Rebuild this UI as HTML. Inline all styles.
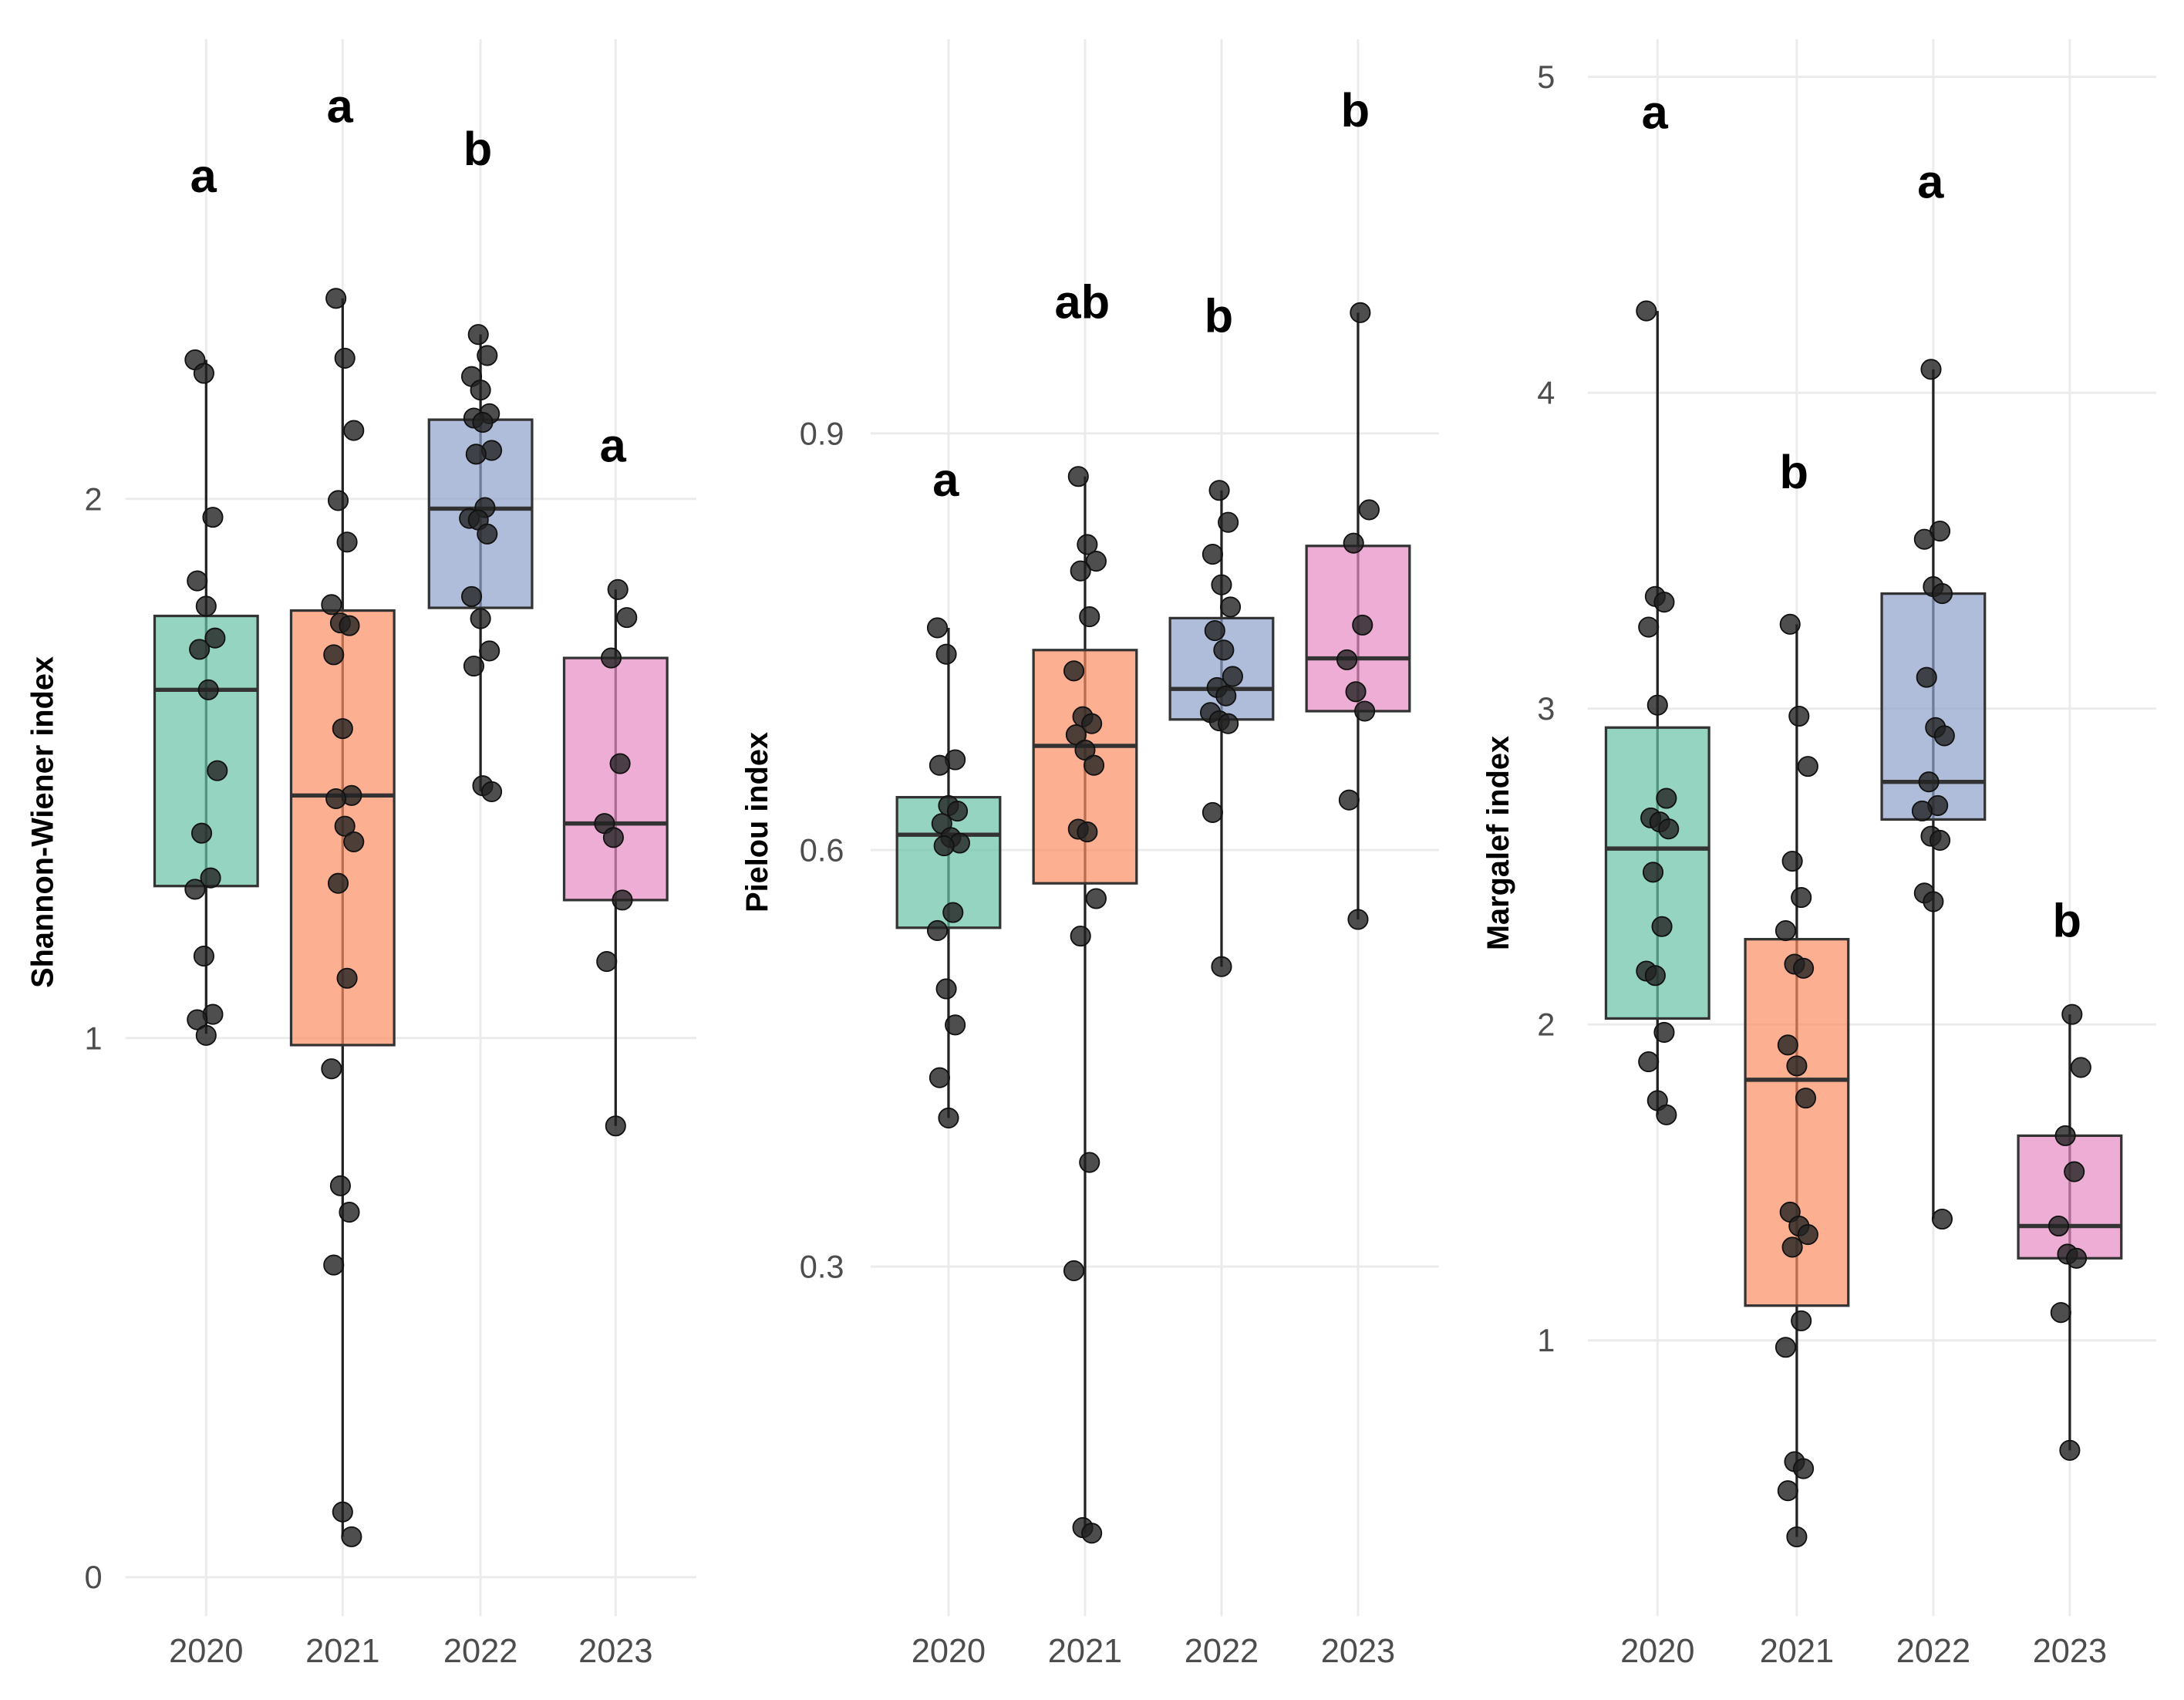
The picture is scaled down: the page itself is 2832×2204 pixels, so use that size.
<!DOCTYPE html>
<html><head><meta charset="utf-8"><style>
html,body{margin:0;padding:0;background:#fff;}
svg{display:block;font-family:"Liberation Sans",Arial,sans-serif;}
</style></head><body>
<svg id="chart" width="2832" height="2204" viewBox="0 0 1568 1220" xmlns="http://www.w3.org/2000/svg"></svg>
<script>
const years = ["2020","2021","2022","2023"];
const colors = ["#66c2a5","#fc8d62","#8da0cb","#e78ac3"];

// Panel 1: Shannon-Wiener
const shTicks = [0,1,2];
const shLetters = ["a","a","b","a"];
const shLetterVals = [2.60, 2.73, 2.65, 2.10];
const shQ1 = [1.282,0.987,1.798,1.256];
const shMed = [1.646,1.450,1.982,1.398];
const shQ3 = [1.783,1.793,2.147,1.705];
const shLo = [1.008,0.075,1.457,0.837];
const shHi = [2.258,2.372,2.305,1.832];
const shPts2020 = [2.258,2.233,1.966,1.848,1.801,1.742,1.721,1.646,1.496,1.380,1.297,1.276,1.152,1.044,1.034,1.005];
const shPts2021 = [2.372,2.261,2.127,1.997,1.920,1.804,1.770,1.765,1.711,1.574,1.450,1.444,1.393,1.364,1.287,1.111,0.943,0.726,0.677,0.579,0.121,0.075];
const shPts2022 = [2.305,2.266,2.227,2.202,2.158,2.150,2.142,2.090,2.083,1.984,1.964,1.961,1.935,1.819,1.778,1.718,1.690,1.468,1.457];
const shPts2023 = [1.832,1.780,1.705,1.509,1.398,1.372,1.256,1.142,0.837];

// Panel 2: Pielou
const piTicks = [0.3,0.6,0.9];
const piLetters = ["a","ab","b","b"];
const piLetterVals = [0.867,0.995,0.985,1.133];
const piQ1 = [0.544,0.576,0.694,0.700];
const piMed = [0.611,0.675,0.716,0.738];
const piQ3 = [0.638,0.744,0.767,0.819];
const piLo = [0.407,0.108,0.516,0.550];
const piHi = [0.760,0.869,0.859,0.987];
const piPts2020 = [0.760,0.741,0.665,0.661,0.632,0.628,0.619,0.609,0.605,0.603,0.555,0.542,0.500,0.474,0.436,0.407];
const piPts2021 = [0.869,0.820,0.808,0.801,0.768,0.729,0.696,0.691,0.683,0.672,0.661,0.615,0.613,0.565,0.538,0.375,0.297,0.112,0.108];
const piPts2022 = [0.859,0.836,0.813,0.791,0.775,0.758,0.744,0.725,0.717,0.711,0.699,0.693,0.691,0.627,0.516];
const piPts2023 = [0.987,0.845,0.821,0.762,0.737,0.714,0.700,0.636,0.550];

// Panel 3: Margalef
const maTicks = [1,2,3,4,5];
const maLetters = ["a","b","a","b"];
const maLetterVals = [4.89,3.75,4.67,2.33];
const maQ1 = [2.019,1.110,2.649,1.260];
const maMed = [2.557,1.825,2.768,1.362];
const maQ3 = [2.940,2.270,3.364,1.648];
const maLo = [1.714,0.378,1.384,0.652];
const maHi = [4.259,3.267,4.074,2.032];
const maPts2020 = [4.259,3.355,3.337,3.258,3.011,2.716,2.654,2.641,2.619,2.482,2.310,2.169,2.155,1.975,1.882,1.759,1.714];
const maPts2021 = [3.267,2.976,2.817,2.517,2.402,2.297,2.191,2.178,1.935,1.869,1.767,1.406,1.362,1.335,1.295,1.062,0.978,0.616,0.594,0.524,0.378];
const maPts2022 = [4.074,3.562,3.536,3.386,3.364,3.099,2.940,2.914,2.768,2.693,2.676,2.596,2.583,2.416,2.389,1.384];
const maPts2023 = [2.032,1.864,1.648,1.534,1.362,1.273,1.260,1.088,0.652];

const NS="http://www.w3.org/2000/svg";
const svg=document.getElementById('chart');
function mk(tag,attrs,parent){const e=document.createElementNS(NS,tag);for(const k in attrs)e.setAttribute(k,attrs[k]);(parent||svg).appendChild(e);return e;}

const panels=[
 {name:'shannon',title:'Shannon-Wiener index',x0:90,x1:500,xs:[148,246,345,442],y:v=>1132-387*v,ticks:shTicks,tickX:67,fmt:v=>String(v),titleX:38,titleY:590,
  q1:shQ1,med:shMed,q3:shQ3,lo:shLo,hi:shHi,pts:[shPts2020,shPts2021,shPts2022,shPts2023],letters:shLetters,lv:shLetterVals},
 {name:'pielou',title:'Pielou index',x0:625,x1:1033,xs:[681,779,877,975],y:v=>610-(v-0.6)*996.7,ticks:piTicks,tickX:590,fmt:v=>v.toFixed(1),titleX:551,titleY:590,
  q1:piQ1,med:piMed,q3:piQ3,lo:piLo,hi:piHi,pts:[piPts2020,piPts2021,piPts2022,piPts2023],letters:piLetters,lv:piLetterVals},
 {name:'margalef',title:'Margalef index',x0:1140,x1:1548,xs:[1190,1290,1388,1486],y:v=>962-(v-1)*226.75,ticks:maTicks,tickX:1110,fmt:v=>String(v),titleX:1083,titleY:605,
  q1:maQ1,med:maMed,q3:maQ3,lo:maLo,hi:maHi,pts:[maPts2020,maPts2021,maPts2022,maPts2023],letters:maLetters,lv:maLetterVals}
];

panels.forEach(p=>{
 const g=mk('g',{});
 
 
 p.ticks.forEach(t=>{
  const l=mk('line',{x1:p.x0,x2:p.x1,y1:p.y(t),y2:p.y(t),stroke:'#ebebeb','stroke-width':1.6},g);
  
  
  const tx=mk('text',{x:p.tickX,y:p.y(t)+8,'font-size':23,fill:'#4d4d4d','text-anchor':'middle'},g);
  tx.textContent=p.fmt(t);
  
  
 });
 p.xs.forEach((x,i)=>{
  const l=mk('line',{x1:x,x2:x,y1:28,y2:1160,stroke:'#ebebeb','stroke-width':1.6},g);
  
  
  const tx=mk('text',{x:x,y:1193,'font-size':24,fill:'#4d4d4d','text-anchor':'middle'},g);
  tx.textContent=years[i];
  
  
 });
 const tt=mk('text',{x:p.titleX,y:p.titleY,'font-size':22,'font-weight':'bold',fill:'#000','text-anchor':'middle',transform:`rotate(-90 ${p.titleX} ${p.titleY})`},g);
 tt.textContent=p.title;
 
 
 p.xs.forEach((x,i)=>{
  const hw=37;
  const w=mk('line',{x1:x,x2:x,y1:p.y(p.hi[i]),y2:p.y(p.lo[i]),stroke:'#222','stroke-width':1.8},g);
  
  
  const b=mk('rect',{x:x-hw,width:hw*2,y:p.y(p.q3[i]),height:p.y(p.q1[i])-p.y(p.q3[i]),fill:colors[i],'fill-opacity':0.7,stroke:'#333','stroke-width':1.8},g);
  
  
  const m=mk('line',{x1:x-hw,x2:x+hw,y1:p.y(p.med[i]),y2:p.y(p.med[i]),stroke:'#333','stroke-width':3},g);
  
  
  p.pts[i].forEach((v,j)=>{
   const jit=((j*37+i*13)%11-5)*1.6;
   const c=mk('circle',{cx:x+jit,cy:p.y(v),r:7,fill:'#222','fill-opacity':0.8,stroke:'#111','stroke-width':1},g);
   
   
  });
  const lt=mk('text',{x:x-2,y:p.y(p.lv[i])+12,'font-size':34,'font-weight':'bold',fill:'#000','text-anchor':'middle'},g);
  lt.textContent=p.letters[i];
  
  
 });
});
</script>
</body></html>
